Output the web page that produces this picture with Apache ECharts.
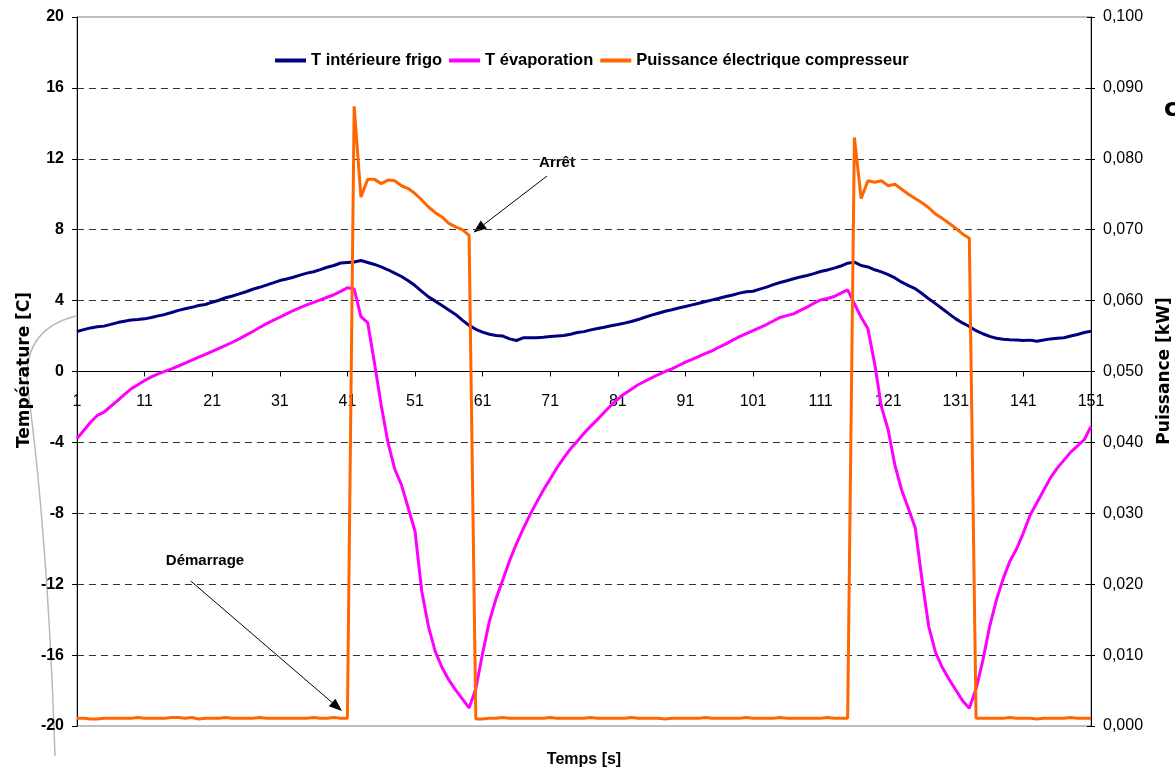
<!DOCTYPE html>
<html>
<head>
<meta charset="utf-8">
<script src="https://cdn.jsdelivr.net/npm/echarts@6/dist/echarts.min.js"></script>
<style>
html,body{margin:0;padding:0;background:#fff;}
#chart{width:1175px;height:774px;}
</style>
</head>
<body>
<div id="chart"></div>
<script>
// ---- Data ----
const categories = Array.from({length: 151}, (_, i) => String(i + 1));

const tInterieure = [
  2.26,2.36,2.46,2.52,2.56,2.66,2.76,2.84,2.91,2.93,
  2.97,3.05,3.14,3.22,3.33,3.45,3.54,3.62,3.72,3.78,
  3.91,4.02,4.16,4.26,4.38,4.50,4.64,4.75,4.87,5.00,
  5.13,5.22,5.32,5.44,5.55,5.63,5.75,5.88,5.98,6.12,
  6.15,6.18,6.26,6.15,6.04,5.90,5.74,5.55,5.36,5.12,
  4.85,4.52,4.21,3.97,3.72,3.47,3.22,2.90,2.60,2.38,
  2.22,2.10,2.03,2.00,1.84,1.75,1.90,1.90,1.90,1.93,
  1.97,2.00,2.03,2.10,2.20,2.25,2.35,2.43,2.50,2.58,
  2.65,2.73,2.82,2.93,3.06,3.18,3.29,3.40,3.48,3.58,
  3.67,3.76,3.85,3.95,4.04,4.13,4.23,4.32,4.42,4.50,
  4.53,4.65,4.76,4.90,5.02,5.12,5.23,5.33,5.42,5.52,
  5.64,5.73,5.83,5.95,6.11,6.17,5.98,5.90,5.74,5.62,
  5.47,5.28,5.04,4.85,4.67,4.40,4.10,3.83,3.54,3.25,
  2.97,2.74,2.54,2.30,2.13,1.98,1.88,1.82,1.79,1.78,
  1.75,1.77,1.71,1.78,1.84,1.88,1.90,2.00,2.09,2.20,
  2.27
];

const tEvaporation = [
  -3.78,-3.33,-2.86,-2.48,-2.29,-1.96,-1.64,-1.30,-0.98,-0.75,
  -0.51,-0.30,-0.13,0.01,0.15,0.31,0.47,0.64,0.81,0.97,
  1.13,1.30,1.47,1.65,1.84,2.05,2.26,2.48,2.69,2.88,
  3.06,3.25,3.44,3.60,3.76,3.90,4.04,4.19,4.33,4.52,
  4.72,4.66,3.10,2.76,0.50,-1.90,-4.00,-5.50,-6.40,-7.70,
  -9.00,-12.40,-14.40,-15.80,-16.70,-17.40,-17.96,-18.47,-18.98,-17.90,
  -15.90,-14.10,-12.80,-11.75,-10.66,-9.72,-8.88,-8.09,-7.37,-6.68,
  -6.06,-5.43,-4.87,-4.36,-3.93,-3.48,-3.08,-2.70,-2.30,-1.90,
  -1.56,-1.25,-1.00,-0.75,-0.55,-0.36,-0.17,0.00,0.15,0.34,
  0.53,0.69,0.85,1.02,1.18,1.38,1.56,1.77,1.97,2.14,
  2.31,2.48,2.65,2.85,3.05,3.15,3.25,3.45,3.63,3.85,
  4.04,4.12,4.23,4.42,4.61,3.82,3.06,2.41,0.43,-2.00,
  -3.30,-5.30,-6.70,-7.74,-8.82,-11.75,-14.40,-15.85,-16.70,-17.36,
  -17.97,-18.57,-19.00,-17.90,-16.30,-14.40,-12.90,-11.70,-10.70,-10.00,
  -9.10,-8.10,-7.40,-6.70,-6.00,-5.45,-5.00,-4.55,-4.20,-3.85,
  -3.10
];

const puissance = [
  0.0011,0.0011,0.0010,0.0010,0.0011,0.0011,0.0011,0.0011,0.0011,0.0012,
  0.0011,0.0011,0.0011,0.0011,0.0012,0.0012,0.0011,0.0012,0.0010,0.0011,
  0.0011,0.0011,0.0012,0.0011,0.0011,0.0011,0.0011,0.0012,0.0011,0.0011,
  0.0011,0.0011,0.0011,0.0011,0.0011,0.0012,0.0011,0.0011,0.0012,0.0011,
  0.0011,0.0874,0.0746,0.0771,0.0771,0.0765,0.0770,0.0769,0.0762,0.0758,
  0.0751,0.0742,0.0732,0.0724,0.0718,0.0709,0.0704,0.0700,0.0692,0.0010,
  0.0010,0.0011,0.0011,0.0012,0.0011,0.0011,0.0011,0.0011,0.0011,0.0011,
  0.0012,0.0011,0.0011,0.0011,0.0011,0.0011,0.0012,0.0011,0.0011,0.0011,
  0.0011,0.0011,0.0012,0.0011,0.0011,0.0011,0.0011,0.0010,0.0011,0.0011,
  0.0011,0.0011,0.0011,0.0012,0.0011,0.0011,0.0011,0.0011,0.0011,0.0012,
  0.0011,0.0011,0.0011,0.0011,0.0012,0.0011,0.0011,0.0011,0.0011,0.0011,
  0.0011,0.0012,0.0011,0.0011,0.0011,0.0830,0.0744,0.0769,0.0767,0.0769,
  0.0762,0.0764,0.0757,0.0750,0.0744,0.0738,0.0731,0.0722,0.0716,0.0709,
  0.0702,0.0694,0.0688,0.0011,0.0011,0.0011,0.0011,0.0011,0.0012,0.0011,
  0.0011,0.0011,0.0010,0.0011,0.0011,0.0011,0.0011,0.0012,0.0011,0.0011,
  0.0011
];

const seriesNames = ['T intérieure frigo', 'T évaporation', 'Puissance électrique compresseur'];
const leftTicks = { min: -20, max: 20, interval: 4 };
const rightTicks = { min: 0, max: 0.1, interval: 0.01 };

// ---- Chart ----
const FONT = '"Liberation Sans", Arial, sans-serif';
const GRID = {left: 77, right: 84, top: 17, bottom: 48};
const chart = echarts.init(document.getElementById('chart'), null, {renderer: 'canvas'});
// the category axis sits on the 0 of the left axis
const plotH = 774 - GRID.top - GRID.bottom;
const zeroOffset = -plotH * (0 - leftTicks.min) / (leftTicks.max - leftTicks.min);

function arrow(x1, y1, x2, y2) {
  const dx = x2 - x1, dy = y2 - y1, L = Math.hypot(dx, dy);
  const ux = dx / L, uy = dy / L, hl = 13, hw = 5;
  const bx = x2 - ux * hl, by = y2 - uy * hl;
  return [
    {type: 'line', shape: {x1: x1, y1: y1, x2: bx, y2: by}, style: {stroke: '#000', lineWidth: 1}, silent: true},
    {type: 'polygon', shape: {points: [[x2, y2], [bx - uy * hw, by + ux * hw], [bx + uy * hw, by - ux * hw]]},
     style: {fill: '#000'}, silent: true}
  ];
}

const option = {
  backgroundColor: '#fff',
  animation: false,
  textStyle: {fontFamily: FONT},
  grid: Object.assign({show: true, borderColor: '#808080', borderWidth: 1, backgroundColor: 'transparent'}, GRID),
  legend: {
    left: 270, top: 47,
    icon: 'rect',
    itemWidth: 31, itemHeight: 4, itemGap: 7,
    textStyle: {fontFamily: FONT, fontWeight: 'bold', fontSize: 16.5, color: '#000'},
    data: seriesNames
  },
  xAxis: {
    type: 'category',
    data: categories,
    boundaryGap: false,
    position: 'bottom',
    offset: zeroOffset,
    axisLine: {onZero: false, lineStyle: {color: '#000', width: 1}},
    axisTick: {interval: 9, length: 5, lineStyle: {color: '#000'}},
    axisLabel: {interval: 9, margin: 22, color: '#000', fontSize: 16, fontFamily: FONT},
    splitLine: {show: false}
  },
  yAxis: [
    {
      type: 'value', position: 'left',
      min: leftTicks.min, max: leftTicks.max, interval: leftTicks.interval,
      axisLine: {show: true, lineStyle: {color: '#000'}},
      axisTick: {show: true, length: 5, lineStyle: {color: '#000'}},
      axisLabel: {color: '#000', fontWeight: 'bold', fontSize: 16, margin: 13, fontFamily: FONT},
      splitLine: {show: true, showMinLine: false, showMaxLine: false,
                  lineStyle: {color: '#333', width: 1, type: [7, 5]}}
    },
    {
      type: 'value', position: 'right',
      min: rightTicks.min, max: rightTicks.max, interval: rightTicks.interval,
      axisLine: {show: true, lineStyle: {color: '#000'}},
      axisTick: {show: true, length: 4, lineStyle: {color: '#000'}},
      axisLabel: {color: '#000', fontSize: 16, margin: 12, fontFamily: FONT,
                  formatter: function (v) { return v.toFixed(3).replace('.', ','); }},
      splitLine: {show: false}
    },
    {
      type: 'value', position: 'right',
      min: rightTicks.min, max: rightTicks.max, interval: rightTicks.interval,
      axisLine: {show: false},
      axisTick: {show: true, inside: true, length: 4, lineStyle: {color: '#000'}},
      axisLabel: {show: false},
      splitLine: {show: false}
    }
  ],
  series: [
    {name: seriesNames[0], type: 'line', yAxisIndex: 0, data: tInterieure, symbol: 'none',
     lineStyle: {color: '#000080', width: 3}, itemStyle: {color: '#000080'}},
    {name: seriesNames[1], type: 'line', yAxisIndex: 0, data: tEvaporation, symbol: 'none',
     lineStyle: {color: '#FF00FF', width: 3}, itemStyle: {color: '#FF00FF'}},
    {name: seriesNames[2], type: 'line', yAxisIndex: 1, data: puissance, symbol: 'none',
     lineStyle: {color: '#FF6600', width: 3}, itemStyle: {color: '#FF6600'}}
  ],
  graphic: [
    {type: 'bezierCurve', silent: true, shape: {x1: 76, y1: 316, cpx1: 20, cpy1: 330, x2: 28, y2: 390},
     style: {stroke: '#b8b8b8', lineWidth: 1.5, fill: null}},
    {type: 'bezierCurve', silent: true, shape: {x1: 28, y1: 390, cpx1: 48, cpy1: 540, x2: 55, y2: 756},
     style: {stroke: '#b8b8b8', lineWidth: 1.5, fill: null}},
    {type: 'text', x: 25, y: 370, rotation: Math.PI / 2, silent: true,
     style: {text: 'Température [C]', x: 0, y: 0, align: 'center', verticalAlign: 'middle',
             font: 'bold 17px "DejaVu Sans", sans-serif', fill: '#000'}},
    {type: 'text', x: 1165, y: 371, rotation: Math.PI / 2, silent: true,
     style: {text: 'Puissance [kW]', x: 0, y: 0, align: 'center', verticalAlign: 'middle',
             font: 'bold 17px "DejaVu Sans", sans-serif', fill: '#000'}},
    {type: 'text', x: 584, y: 760, silent: true,
     style: {text: 'Temps [s]', x: 0, y: 0, align: 'center', verticalAlign: 'middle',
             font: 'bold 16px "Liberation Sans", Arial, sans-serif', fill: '#000'}},
    {type: 'text', x: 1164, y: 110, silent: true,
     style: {text: 'c', x: 0, y: 0, align: 'left', verticalAlign: 'middle',
             font: 'bold 24px "DejaVu Sans", sans-serif', fill: '#000'}},
    {type: 'text', x: 557, y: 163, silent: true,
     style: {text: 'Arrêt', x: 0, y: 0, align: 'center', verticalAlign: 'middle',
             font: 'bold 15px "Liberation Sans", Arial, sans-serif', fill: '#000'}},
    {type: 'text', x: 205, y: 561, silent: true,
     style: {text: 'Démarrage', x: 0, y: 0, align: 'center', verticalAlign: 'middle',
             font: 'bold 15px "Liberation Sans", Arial, sans-serif', fill: '#000'}}
  ].concat(arrow(547, 176, 473.5, 232.5), arrow(190.7, 581, 342, 711))
};
chart.setOption(option);
</script>
</body>
</html>
